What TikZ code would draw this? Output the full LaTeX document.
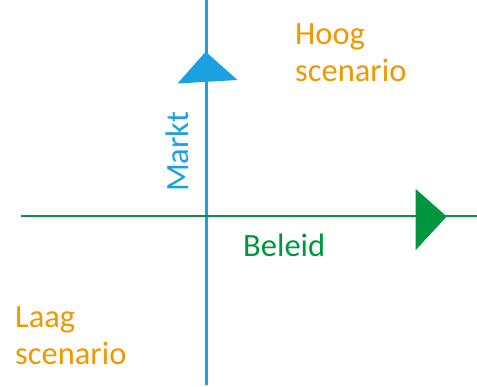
\documentclass[tikz,border=0pt]{standalone}
\usepackage{fontspec}
\setmainfont{Carlito}
\definecolor{axisblue}{RGB}{27,161,224}
\definecolor{axisgreen}{RGB}{0,150,64}
\definecolor{scenorange}{RGB}{240,152,0}
\begin{document}
\begin{tikzpicture}[x=1pt,y=-1pt,
  lbl/.style={font=\fontsize{32.5}{37}\selectfont, inner sep=0pt, align=left, anchor=base west},
  axis/.style={line width=2.4pt}]
\useasboundingbox (0,0) rectangle (477,387);
% vertical axis
\coordinate (vtop) at (206.5,0);
\coordinate (vbot) at (206.5,385);
\draw[axis, axisblue] (vtop) -- (vbot);
\coordinate (bt) at (205.7,51.7);
\coordinate (bl) at (177.5,83.5);
\coordinate (br) at (237.5,80);
\fill[axisblue] (bt) -- (br) -- (bl) -- cycle;
% horizontal axis
\coordinate (hl) at (21,216);
\coordinate (hr) at (477,216);
\draw[axis, axisgreen] (hl) -- (hr);
\coordinate (gt) at (446.7,216.5);
\coordinate (gu) at (415.7,189);
\coordinate (gd) at (415.7,250);
\fill[axisgreen] (gu) -- (gt) -- (gd) -- cycle;
% labels
\node[lbl, text=axisblue, rotate=90] (markt) at (188,192) {Markt};
\node[lbl, text=axisgreen] (beleid) at (243,257) {Beleid};
\node[lbl, text=scenorange] (hoog) at (295,82) {Hoog\\scenario};
\node[lbl, text=scenorange] (laag) at (15,365) {Laag\\scenario};
\end{tikzpicture}
\end{document}
